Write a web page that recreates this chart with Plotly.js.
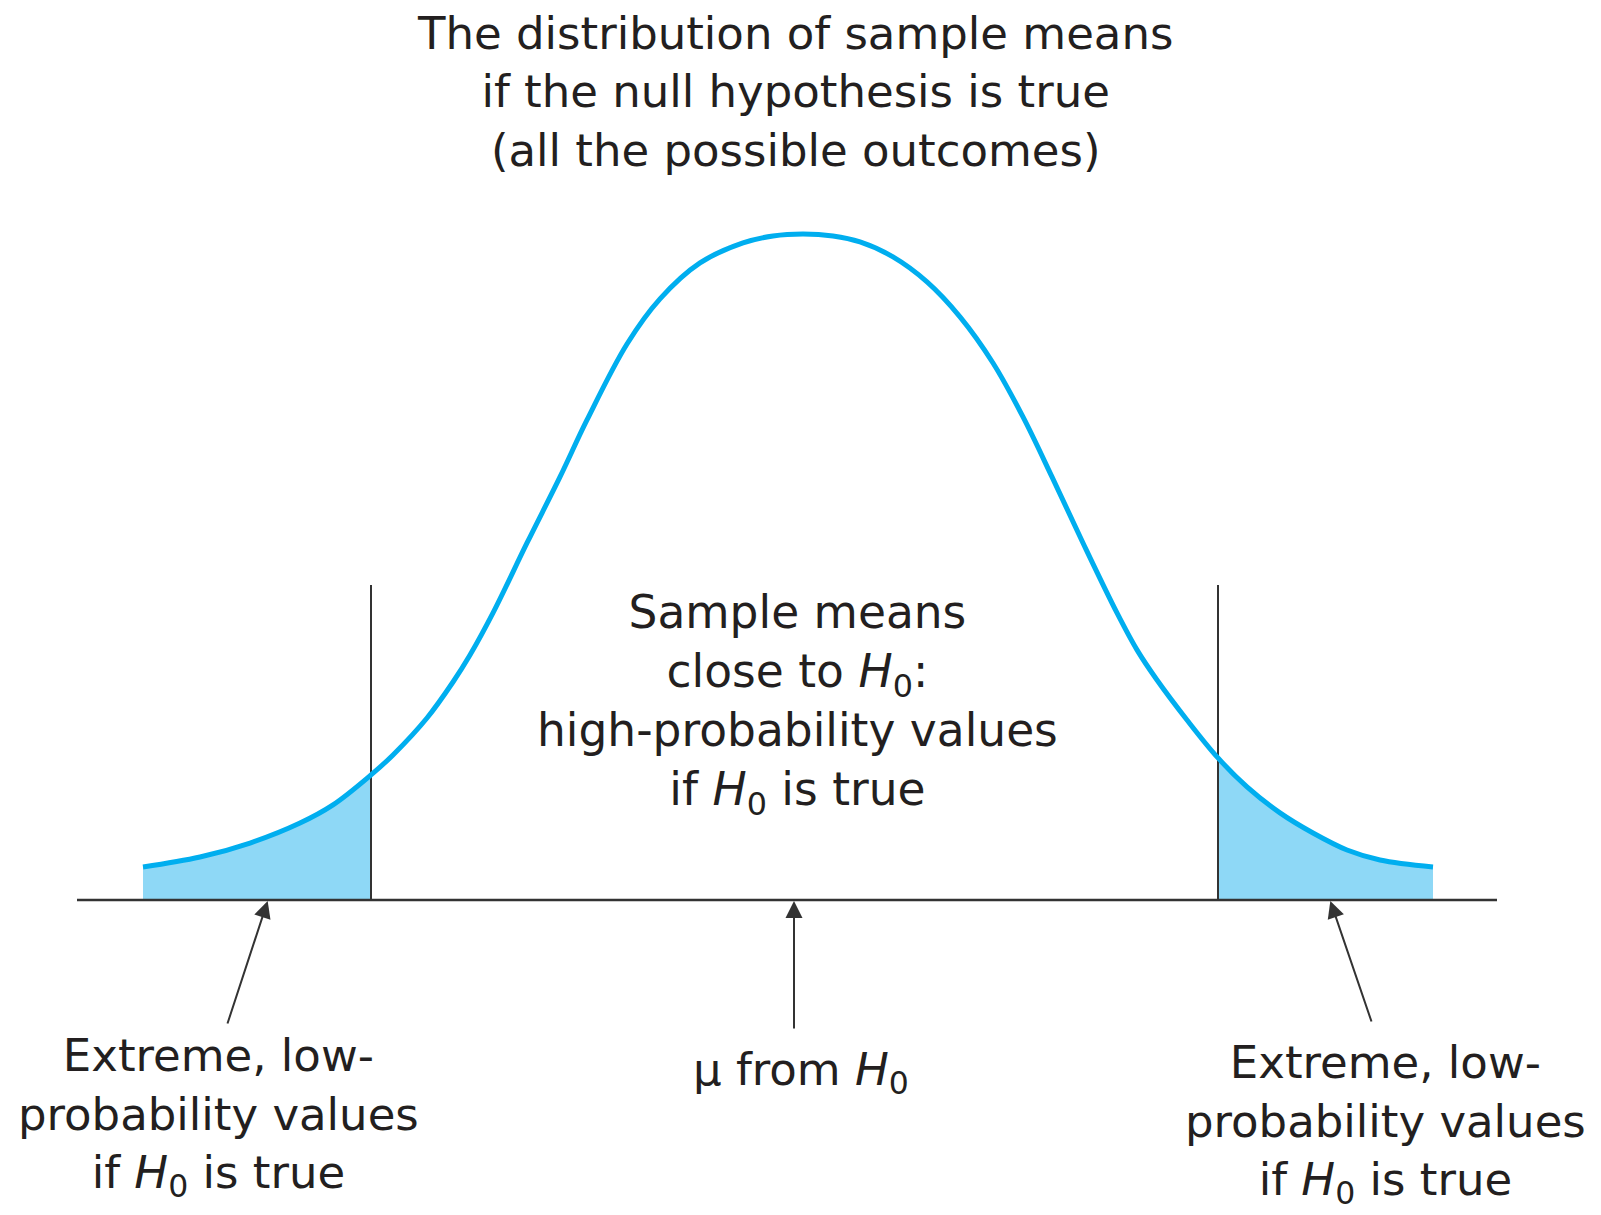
<!DOCTYPE html>
<html>
<head>
<meta charset="utf-8">
<script src="https://cdn.plot.ly/plotly-3.0.1.min.js"></script>
<style>html,body{margin:0;padding:0;background:#fff;}#chart{width:1601px;height:1215px;}</style>
</head>
<body>
<div id="chart"></div>
<script>
// Curve: x in standard-error units from mu, y = relative density
const curveX = [-2.604,-2.376,-2.176,-1.976,-1.844,-1.692,-1.604,-1.468,-1.364,-1.296,-1.204,-1.068,-0.936,-0.828,-0.668,-0.536,-0.376,-0.204,-0.084,0.036,0.156,0.264,0.396,0.532,0.664,0.796,0.916,1.032,1.156,1.292,1.372,1.452,1.572,1.696,1.812,1.944,2.076,2.212,2.344,2.556];
const curveY = [0.0198,0.0258,0.0342,0.0462,0.0571,0.0751,0.0871,0.1093,0.1309,0.1471,0.1724,0.2144,0.2541,0.2883,0.3339,0.3610,0.3826,0.3946,0.3988,0.4000,0.3988,0.3952,0.3862,0.3712,0.3502,0.3225,0.2901,0.2541,0.2144,0.1724,0.1502,0.1321,0.1081,0.0853,0.0679,0.0523,0.0402,0.0300,0.0240,0.0198];
const critLow = -1.692;
const critHigh = 1.696;
const critLineTop = 0.1892;
const axisEnds = [-2.868, 2.812];
const muValue = 0;
const tailArrowX = [-2.104, 2.144];

const titleText = "The distribution of sample means<br>if the null hypothesis is true<br>(all the possible outcomes)";
const centerText = "Sample means<br>close to <i>H</i><sub>0</sub>:<br>high-probability values<br>if <i>H</i><sub>0</sub> is true";
const tailText = "Extreme, low-<br>probability values<br>if <i>H</i><sub>0</sub> is true";
const muText = "μ from <i>H</i><sub>0</sub>";

const lineBlue = "#00aeef";
const fillBlue = "#8ed8f6";
const ink = "#333333";
const textInk = "#231f20";
const FONT = "'DejaVu Sans', 'Open Sans', sans-serif";

const leftX = [], leftY = [], rightX = [], rightY = [];
curveX.forEach((x, i) => {
  if (x <= critLow + 1e-9) { leftX.push(x); leftY.push(curveY[i]); }
  if (x >= critHigh - 1e-9) { rightX.push(x); rightY.push(curveY[i]); }
});

const SMOOTH = 1;
const traces = [
  {x: leftX, y: leftY, type: 'scatter', mode: 'lines', fill: 'tozeroy', fillcolor: fillBlue,
   line: {width: 0, shape: 'spline', smoothing: SMOOTH, color: fillBlue}, hoverinfo: 'skip', showlegend: false},
  {x: rightX, y: rightY, type: 'scatter', mode: 'lines', fill: 'tozeroy', fillcolor: fillBlue,
   line: {width: 0, shape: 'spline', smoothing: SMOOTH, color: fillBlue}, hoverinfo: 'skip', showlegend: false},
  {x: axisEnds, y: [0, 0], type: 'scatter', mode: 'lines', line: {color: ink, width: 2.5}, hoverinfo: 'skip', showlegend: false},
  {x: [critLow, critLow], y: [0, critLineTop], type: 'scatter', mode: 'lines', line: {color: ink, width: 2}, hoverinfo: 'skip', showlegend: false},
  {x: [critHigh, critHigh], y: [0, critLineTop], type: 'scatter', mode: 'lines', line: {color: ink, width: 2}, hoverinfo: 'skip', showlegend: false},
  {x: curveX, y: curveY, type: 'scatter', mode: 'lines', line: {color: lineBlue, width: 5, shape: 'spline', smoothing: SMOOTH}, hoverinfo: 'skip', showlegend: false}
];

const textFont = {family: FONT, size: 45, color: textInk};
const centerFont = {family: FONT, size: 45.5, color: textInk};
const annotations = [
  {x: 0.014, y: 0.1174, xref: 'x', yref: 'y', text: centerText, showarrow: false, font: centerFont, align: 'center', xanchor: 'center', yanchor: 'middle'},
  {x: -2.304, y: -0.1303, xref: 'x', yref: 'y', text: tailText, showarrow: false, font: textFont, align: 'center', xanchor: 'center', yanchor: 'middle'},
  {x: 2.364, y: -0.1345, xref: 'x', yref: 'y', text: tailText, showarrow: false, font: textFont, align: 'center', xanchor: 'center', yanchor: 'middle'},
  {x: 0.028, y: -0.1033, xref: 'x', yref: 'y', text: muText, showarrow: false, font: textFont, align: 'center', xanchor: 'center', yanchor: 'middle'},
  // arrows
  {x: tailArrowX[0], y: 0, xref: 'x', yref: 'y', ax: -2.268, ay: -0.0751, axref: 'x', ayref: 'y', text: '', showarrow: true, arrowhead: 2, arrowsize: 1.7, arrowwidth: 2, arrowcolor: ink, standoff: 1},
  {x: tailArrowX[1], y: 0, xref: 'x', yref: 'y', ax: 2.312, ay: -0.0739, axref: 'x', ayref: 'y', text: '', showarrow: true, arrowhead: 2, arrowsize: 1.7, arrowwidth: 2, arrowcolor: ink, standoff: 1},
  {x: muValue, y: 0, xref: 'x', yref: 'y', ax: muValue, ay: -0.0781, axref: 'x', ayref: 'y', text: '', showarrow: true, arrowhead: 2, arrowsize: 1.7, arrowwidth: 2, arrowcolor: ink, standoff: 1}
];

const layout = {
  width: 1601, height: 1215,
  margin: {l: 0, r: 0, t: 0, b: 0, pad: 0},
  paper_bgcolor: '#ffffff', plot_bgcolor: '#ffffff',
  title: {text: titleText, font: {family: FONT, size: 45, color: textInk}, x: 0.497, xanchor: 'center', xref: 'paper', y: 0.9597, yref: 'container', yanchor: 'middle'},
  xaxis: {range: [-3.176, 3.228], visible: false, fixedrange: true},
  yaxis: {range: [-0.1892, 0.5405], visible: false, fixedrange: true},
  showlegend: false,
  annotations: annotations
};

Plotly.newPlot('chart', traces, layout, {displayModeBar: false, staticPlot: true});
</script>
</body>
</html>
